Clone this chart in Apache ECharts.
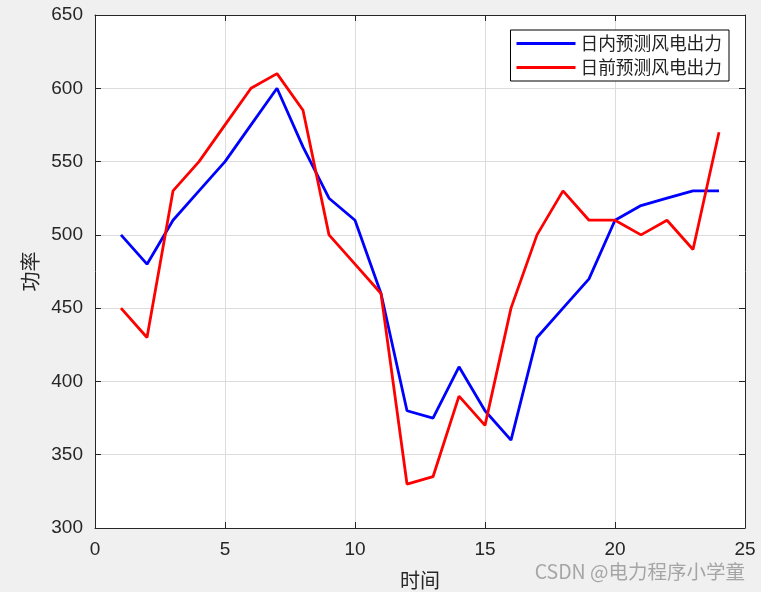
<!DOCTYPE html>
<html><head><meta charset="utf-8">
<script src="https://cdn.jsdelivr.net/npm/echarts@6/dist/echarts.min.js"></script>
<style>html,body{margin:0;padding:0;background:#f0f0f0}#c{width:761px;height:592px}</style>
</head><body><div id="c"></div>
<script>
const times = [1,2,3,4,5,6,7,8,9,10,11,12,13,14,15,16,17,18,19,20,21,22,23,24];
const intraday = [500,480,510,530,550,575,600,560,525,510,460,380,375,410,380,360,430,450,470,510,520,525,530,530];
const dayAhead = [450,430,530,550,575,600,610,585,500,480,460,330,335,390,370,450,500,530,510,510,500,510,490,570];
const seriesNames = ['日内预测风电出力','日前预测风电出力'];
const xTicks = [0,5,10,15,20,25];
const yTicks = [300,350,400,450,500,550,600,650];

const chart = echarts.init(document.getElementById('c'));
const axisCol = '#262626';
const tickFont = {color: axisCol, fontSize: 19, fontFamily: 'Liberation Sans, Arial, sans-serif'};
chart.setOption({
  backgroundColor: '#f0f0f0',
  animation: false,
  grid: {left: 95, top: 15, width: 650, height: 513, show: true, backgroundColor: '#fff', borderWidth: 0,
         containLabel: false, outerBoundsMode: 'none'},
  legend: {
    orient: 'vertical', right: 32, top: 30, data: seriesNames,
    icon: 'rect', itemWidth: 59, itemHeight: 3, itemGap: 5,
    borderColor: '#000', borderWidth: 1, backgroundColor: '#fff',
    padding: [4, 7, 4, 6],
    textStyle: {fontSize: 17.7, lineHeight: 19, color: '#222', fontFamily: 'Noto Sans CJK SC'}
  },
  xAxis: [{
    type: 'value', min: 0, max: 25, interval: 5,
    name: '时间', nameLocation: 'middle', nameGap: 42,
    nameTextStyle: {fontSize: 20, color: axisCol, fontFamily: 'Noto Sans CJK SC'},
    axisLine: {show: true, onZero: false, lineStyle: {color: axisCol}},
    axisTick: {show: true, inside: true, length: 6, lineStyle: {color: axisCol}},
    axisLabel: Object.assign({margin: 12, formatter: v => xTicks.includes(v) ? String(v) : ''}, tickFont),
    splitLine: {show: true, lineStyle: {color: '#dcdcdc'}}
  }, {
    type: 'value', position: 'top', min: 0, max: 25, interval: 5,
    axisLine: {show: true, onZero: false, lineStyle: {color: axisCol}},
    axisTick: {show: true, inside: true, length: 6, lineStyle: {color: axisCol}},
    axisLabel: {show: false}, splitLine: {show: false}
  }],
  yAxis: [{
    type: 'value', min: 300, max: 650, interval: 50,
    name: '功率', nameLocation: 'middle', nameGap: 52,
    nameTextStyle: {fontSize: 20, color: axisCol, fontFamily: 'Noto Sans CJK SC'},
    axisLine: {show: true, onZero: false, lineStyle: {color: axisCol}},
    axisTick: {show: true, inside: true, length: 6, lineStyle: {color: axisCol}},
    axisLabel: Object.assign({margin: 12, formatter: v => yTicks.includes(v) ? String(v) : ''}, tickFont),
    splitLine: {show: true, lineStyle: {color: '#dcdcdc'}}
  }, {
    type: 'value', position: 'right', min: 300, max: 650, interval: 50,
    axisLine: {show: true, onZero: false, lineStyle: {color: axisCol}},
    axisTick: {show: true, inside: true, length: 6, lineStyle: {color: axisCol}},
    axisLabel: {show: false}, splitLine: {show: false}
  }],
  series: [{
    name: seriesNames[0], type: 'line', symbol: 'none', color: '#0000ff',
    lineStyle: {width: 2.8, color: '#0000ff'},
    data: times.map((t, i) => [t, intraday[i]])
  }, {
    name: seriesNames[1], type: 'line', symbol: 'none', color: '#ff0000',
    lineStyle: {width: 2.8, color: '#ff0000'},
    data: times.map((t, i) => [t, dayAhead[i]])
  }],
  graphic: [{
    type: 'text', right: 16, top: 562,
    style: {text: 'CSDN @电力程序小学童', fontSize: 19.5, fill: 'rgba(140,140,140,0.75)', fontFamily: 'Noto Sans CJK SC'}
  }]
});
</script></body></html>
